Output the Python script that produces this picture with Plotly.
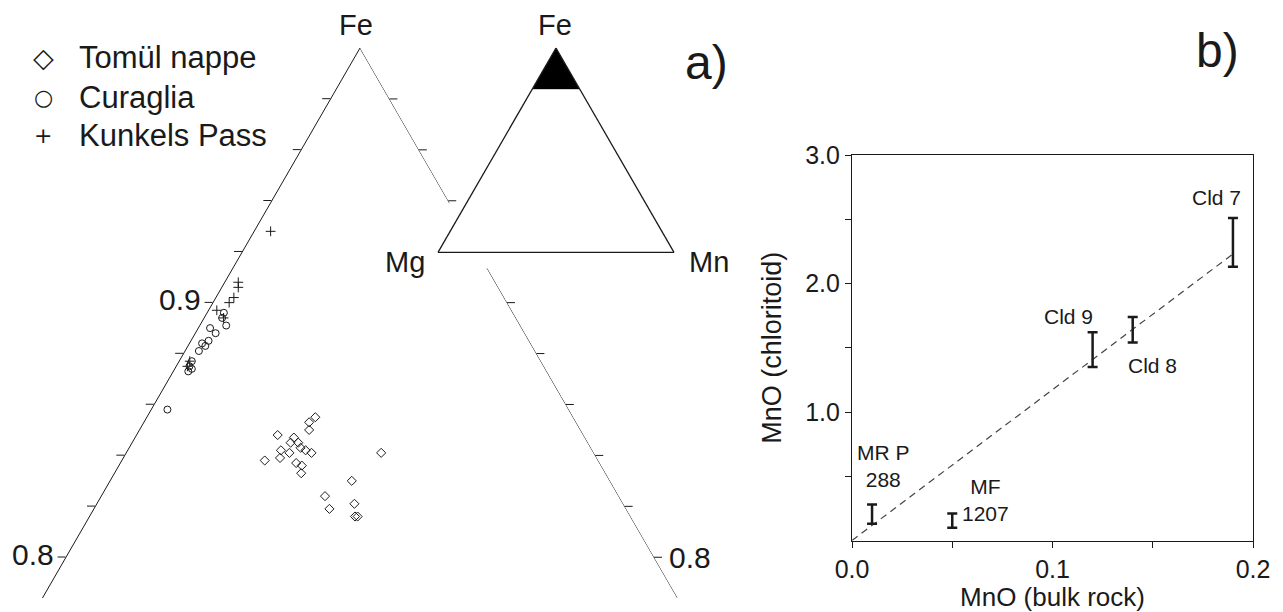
import plotly.graph_objects as go

FONT = "Liberation Sans, Arial, Helvetica, sans-serif"
INK = "#1a1a1a"

# ---- panel a: chloritoid compositions (Fe, Mg, Mn fractions) ----
tomul_fe = [0.855, 0.853, 0.850, 0.848, 0.847, 0.845, 0.845, 0.843, 0.842, 0.841, 0.842, 0.841,
            0.838, 0.839, 0.837, 0.836, 0.833, 0.841, 0.830, 0.824, 0.821, 0.819, 0.816, 0.816]
tomul_mg = [0.0877, 0.0908, 0.0923, 0.1040, 0.0990, 0.1011, 0.0985, 0.0987, 0.0975, 0.0960, 0.1059, 0.1035,
            0.1134, 0.1077, 0.1032, 0.1018, 0.1035, 0.0723, 0.0878, 0.0999, 0.0914, 0.1009, 0.0937, 0.0928]
tomul_mn = [0.0573, 0.0562, 0.0577, 0.0480, 0.0540, 0.0539, 0.0565, 0.0583, 0.0605, 0.0630, 0.0521, 0.0555,
            0.0486, 0.0533, 0.0598, 0.0622, 0.0635, 0.0867, 0.0822, 0.0761, 0.0876, 0.0801, 0.0903, 0.0912]

curaglia_fe = [0.896, 0.894, 0.891, 0.890, 0.888, 0.885, 0.884, 0.883, 0.881, 0.877, 0.875, 0.874, 0.873, 0.858]
curaglia_mg = [0.0983, 0.0999, 0.1000, 0.1060, 0.1051, 0.1090, 0.1117, 0.1111, 0.1143, 0.1187, 0.1205, 0.1202,
               0.1219, 0.1365]
curaglia_mn = [0.0057, 0.0061, 0.0090, 0.0040, 0.0069, 0.0060, 0.0043, 0.0059, 0.0047, 0.0043, 0.0045, 0.0058,
               0.0051, 0.0055]

kunkels_fe = [0.928, 0.908, 0.906, 0.902, 0.900, 0.897, 0.894, 0.877, 0.875]
kunkels_mg = [0.0664, 0.0874, 0.0884, 0.0919, 0.0945, 0.1002, 0.0994, 0.1194, 0.1212]
kunkels_mn = [0.0056, 0.0046, 0.0056, 0.0061, 0.0055, 0.0028, 0.0066, 0.0036, 0.0038]

groups = ["Tomül nappe", "Curaglia", "Kunkels Pass"]
group_symbols = ["◇", "○", "+"]

fe_min = 0.784  # lower Fe limit of the enlarged triangle

# right-hand side of the enlarged triangle (Mg = 0), interrupted behind the inset
edge_fe = [1.0, 0.939, None, 0.9135, fe_min]
edge_mg = [0.0, 0.0, None, 0.0, 0.0]
edge_mn = [0.0, 0.061, None, 0.0865, 1 - fe_min]

# inset: part of the Fe-Mg-Mn triangle that is enlarged
zoom_fe = [1.0, 0.8, 0.8, 1.0]
zoom_mg = [0.0, 0.2, 0.0, 0.0]
zoom_mn = [0.0, 0.0, 0.2, 0.0]

fe_ticks = [0.80, 0.82, 0.84, 0.86, 0.88, 0.90, 0.92, 0.94, 0.96, 0.98]
fe_ticktext = ["0.8", "", "", "", "", "0.9", "", "", "", ""]
right_fe_ticks = [0.80, 0.82, 0.84, 0.86, 0.88, 0.90, 0.94, 0.96, 0.98]

# ---- panel b: MnO bulk rock vs MnO chloritoid ----
samples = ["MR P 288", "MF 1207", "Cld 9", "Cld 8", "Cld 7"]
mno_bulk = [0.01, 0.05, 0.12, 0.14, 0.19]
mno_cld_low = [0.13, 0.10, 1.35, 1.54, 2.13]
mno_cld_high = [0.28, 0.21, 1.62, 1.74, 2.51]
trend_x = [0.0, 0.19]
trend_y = [0.0, 2.23]

mno_cld_mid = [(lo + hi) / 2 for lo, hi in zip(mno_cld_low, mno_cld_high)]
err_plus = [hi - m for hi, m in zip(mno_cld_high, mno_cld_mid)]
err_minus = [m - lo for lo, m in zip(mno_cld_low, mno_cld_mid)]

# the page puts the figure 8 px in from the top-left corner of the window
OFF = 8
W, H = 1283 - OFF, 612 - OFF


def px(x):
    return (x - OFF) / W


def py(y):
    return 1 - (y - OFF) / H


fig = go.Figure()

marker_common = dict(color=INK, size=7, line=dict(width=1, color=INK))
for name, fe, mg, mn, sym in [(groups[0], tomul_fe, tomul_mg, tomul_mn, "diamond-open"),
                              (groups[1], curaglia_fe, curaglia_mg, curaglia_mn, "circle-open"),
                              (groups[2], kunkels_fe, kunkels_mg, kunkels_mn, "cross-thin-open")]:
    fig.add_trace(go.Scatterternary(a=fe, b=mg, c=mn, mode="markers", name=name,
                                    marker=dict(symbol=sym, **marker_common),
                                    showlegend=False, subplot="ternary"))

fig.add_trace(go.Scatterternary(a=edge_fe, b=edge_mg, c=edge_mn, mode="lines",
                                line=dict(color=INK, width=1), cliponaxis=False,
                                showlegend=False, hoverinfo="skip", subplot="ternary"))

fig.add_trace(go.Scatterternary(a=zoom_fe, b=zoom_mg, c=zoom_mn, mode="lines", fill="toself",
                                fillcolor="black", line=dict(color="black", width=0.5),
                                showlegend=False, hoverinfo="skip", subplot="ternary2"))

# panel b
fig.add_trace(go.Scatter(x=trend_x, y=trend_y, mode="lines", showlegend=False,
                         line=dict(color="#444", width=1.2, dash="7px,5px"),
                         xaxis="x", yaxis="y"))
fig.add_trace(go.Scatter(x=mno_bulk, y=mno_cld_mid, mode="markers", showlegend=False,
                         text=samples, marker=dict(size=1, color="rgba(0,0,0,0)"),
                         error_y=dict(type="data", symmetric=False, array=err_plus,
                                      arrayminus=err_minus, color=INK, thickness=2.5, width=5),
                         xaxis="x", yaxis="y"))

# main triangle geometry (window pixels)
tri_top, tri_base = 48, 598
tri_cx = 360
tri_h = tri_base - tri_top
tri_half = tri_h / 3 ** 0.5

no_title = dict(text="")
tern_axis_off = dict(showgrid=False, showline=False, ticks="", showticklabels=False, title=no_title)
tern_axis_line = dict(showgrid=False, showline=True, linecolor=INK, linewidth=1.3,
                      ticks="", showticklabels=False, title=no_title)

fig.update_layout(
    width=W, height=H,
    margin=dict(l=0, r=0, t=0, b=0, autoexpand=False),
    paper_bgcolor="white", plot_bgcolor="white",
    font=dict(family=FONT, color=INK),
    showlegend=False,
    ternary=dict(
        domain=dict(x=[px(tri_cx - tri_half), px(tri_cx + tri_half)], y=[py(tri_base), py(tri_top)]),
        sum=1, bgcolor="rgba(0,0,0,0)",
        aaxis=dict(min=fe_min, showgrid=False, showline=True, linecolor=INK, linewidth=1,
                   ticks="outside", ticklen=8, tickcolor=INK, tickwidth=1,
                   tickvals=fe_ticks, ticktext=fe_ticktext, title=no_title,
                   tickfont=dict(size=30, family=FONT, color=INK)),
        baxis=dict(min=0, **tern_axis_off),
        caxis=dict(min=0, **tern_axis_off),
    ),
    ternary2=dict(
        domain=dict(x=[px(438), px(674)], y=[py(252.4), py(48)]),
        sum=1, bgcolor="white",
        aaxis=tern_axis_line, baxis=tern_axis_line, caxis=tern_axis_line,
    ),
    xaxis=dict(domain=[px(852), px(1253)], range=[0, 0.2], anchor="y",
               tickvals=[0, 0.05, 0.1, 0.15, 0.2], ticktext=["0.0", "", "0.1", "", "0.2"],
               ticks="outside", ticklen=6, tickcolor=INK, showgrid=False, zeroline=False,
               showline=True, linecolor=INK, linewidth=1.2, mirror=True,
               tickfont=dict(size=25, family=FONT, color=INK),
               title=dict(text="MnO (bulk rock)", font=dict(size=26, family=FONT, color=INK))),
    yaxis=dict(domain=[py(540.5), py(155)], range=[0, 3], anchor="x",
               tickvals=[0.5, 1, 1.5, 2, 2.5, 3], ticktext=["", "1.0", "", "2.0", "", "3.0"],
               ticks="outside", ticklen=6, tickcolor=INK, showgrid=False, zeroline=False,
               showline=True, linecolor=INK, linewidth=1.2, mirror=True,
               tickfont=dict(size=25, family=FONT, color=INK),
               title=dict(text="MnO (chloritoid)", font=dict(size=27, family=FONT, color=INK))),
)

# horizontal (constant Fe) ticks on the right-hand side of the enlarged triangle
for fe in right_fe_ticks:
    frac = (1 - fe) / (1 - fe_min)
    ty = tri_top + frac * tri_h
    tx = tri_cx + frac * tri_half
    fig.add_shape(type="line", xref="paper", yref="paper",
                  x0=px(tx), x1=px(tx + 8), y0=py(ty), y1=py(ty),
                  line=dict(color=INK, width=1))


def label(txt, x, y, size, family=FONT, xanchor="center"):
    fig.add_annotation(text=txt, x=px(x), y=py(y), xref="paper", yref="paper",
                       xanchor=xanchor, yanchor="middle", showarrow=False,
                       font=dict(family=family, size=size, color=INK))


# key of panel a
for i, (sym, name) in enumerate(zip(group_symbols, groups)):
    yc = 58 + 39 * i
    label(sym, 43, yc, [27, 22, 22][i], family="DejaVu Sans")
    label(name, 77, yc, 31, xanchor="left")

for txt, x, y in [("Fe", 356, 25), ("Fe", 555, 25), ("Mg", 405, 262), ("Mn", 709, 262)]:
    label(txt, x, y, 29)
label("0.8", 690, 557, 30)
label("a)", 706, 63, 48)
label("b)", 1217, 50, 48)

lab = dict(family=FONT, size=21, color=INK)
for txt, x, y in [("Cld 7", 0.182, 2.67), ("Cld 9", 0.108, 1.74), ("Cld 8", 0.150, 1.36),
                  ("MR P<br>288", 0.0155, 0.58), ("MF<br>1207", 0.0668, 0.315)]:
    fig.add_annotation(text=txt, x=x, y=y, xref="x", yref="y", showarrow=False, font=lab)

fig.write_html("out.html")
